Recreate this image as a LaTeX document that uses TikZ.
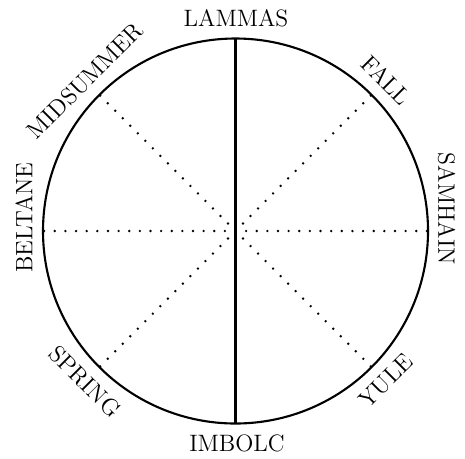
\documentclass[tikz,border=0pt]{standalone}
\usepackage{tikz}
\usetikzlibrary{calc}
\tikzset{
  rim/.style={draw=black, line width=1.2pt},
  axis/.style={draw=black, line width=1.15pt},
  spoke/.style={draw=black, line width=1.5pt, line cap=round,
                dash pattern=on 0pt off 6.05pt},
  season/.style={font=\fontsize{13.5}{15}\selectfont, inner sep=0pt}
}
\begin{document}
\begin{tikzpicture}[x=0.02cm,y=0.02cm]
  \useasboundingbox (0,0) rectangle (465,458);
  \coordinate (c) at (235.5,227);
  % points on the wheel
  \coordinate (top) at ($(c)+(90:192.5)$);
  \coordinate (bot) at ($(c)+(270:192.5)$);
  \coordinate (lft) at ($(c)+(180:192.5)$);
  \coordinate (rgt) at ($(c)+(0:192.5)$);
  \coordinate (ne) at ($(c)+(45:192.5)$);
  \coordinate (nw) at ($(c)+(135:192.5)$);
  \coordinate (sw) at ($(c)+(225:192.5)$);
  \coordinate (se) at ($(c)+(315:192.5)$);

  \draw[rim] (c) circle[radius=192.5];
  \draw[axis] (top) -- (bot);
  \draw[spoke] (c) -- (lft);
  \draw[spoke] (c) -- (rgt);
  \draw[spoke] (c) -- (ne);
  \draw[spoke] (c) -- (nw);
  \draw[spoke] (c) -- (sw);
  \draw[spoke] (c) -- (se);

  % the eight festivals
  \node[season] (lammas) at (236,440) {LAMMAS};
  \node[season] (imbolc) at (237,14.5) {IMBOLC};
  \node[season, rotate=90] (beltane) at (24,240.5) {BELTANE};
  \node[season, rotate=-90] (samhain) at (446.5,249) {SAMHAIN};
  \node[season, rotate=45] (midsummer) at (85,377.6) {MIDSUMMER};
  \node[season, rotate=-45] (fall) at (386,377.6) {FALL};
  \node[season, rotate=-45] (spring) at (85,76.4) {SPRING};
  \node[season, rotate=45] (yule) at (386,77) {YULE};
\end{tikzpicture}
\end{document}
